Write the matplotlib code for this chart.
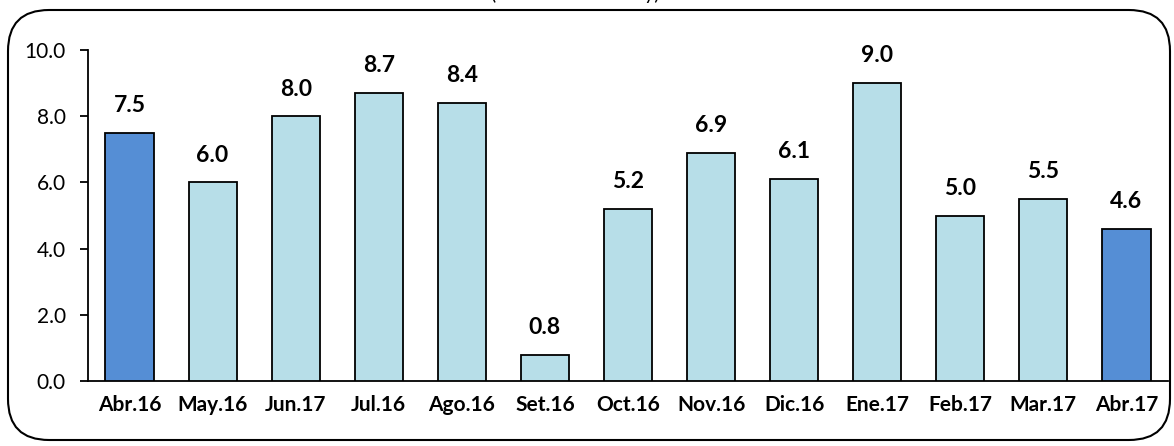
import matplotlib
matplotlib.use("Agg")
import matplotlib.pyplot as plt
from matplotlib.patches import FancyBboxPatch
from matplotlib.ticker import FormatStrFormatter

categories = ["Abr.16", "May.16", "Jun.17", "Jul.16", "Ago.16", "Set.16", "Oct.16",
              "Nov.16", "Dic.16", "Ene.17", "Feb.17", "Mar.17", "Abr.17"]
values = [7.5, 6.0, 8.0, 8.7, 8.4, 0.8, 5.2, 6.9, 6.1, 9.0, 5.0, 5.5, 4.6]
labels = ["7.5", "6.0", "8.0", "8.7", "8.4", "0.8", "5.2", "6.9", "6.1", "9.0", "5.0", "5.5", "4.6"]
highlight = [True] + [False] * 11 + [True]
yticks = [0, 2, 4, 6, 8, 10]

plt.rcParams['font.family'] = ['Lato', 'DejaVu Sans']

fig = plt.figure(figsize=(11.74, 4.46), dpi=100)
ax = fig.add_axes([88/1174, 1-381/446, (1168-88)/1174, (381-50)/446])

colors = ["#558ED5" if h else "#B7DEE8" for h in highlight]
x = list(range(len(categories)))
ax.bar(x, values, width=0.58, color=colors, edgecolor="black", linewidth=1.3, zorder=3)
for xi, v, lab in zip(x, values, labels):
    ax.annotate(lab, (xi, v), xytext=(0, 12), textcoords="offset points",
                ha="center", va="bottom", fontsize=16.5, fontweight="bold")

ax.set_xlim(-0.5, len(categories) - 0.5)
ax.set_ylim(0, 10)
ax.set_yticks(yticks)
ax.yaxis.set_major_formatter(FormatStrFormatter("%.1f"))
ax.set_xticks(x)
ax.set_xticklabels(categories, fontweight="bold", fontsize=15)
ax.tick_params(axis="x", length=0, pad=10)
ax.tick_params(axis="y", length=6, width=1.3, labelsize=15, pad=10)
for s in ["top", "right"]:
    ax.spines[s].set_visible(False)
for s in ["left", "bottom"]:
    ax.spines[s].set_linewidth(1.3)

box = FancyBboxPatch((8/1174, 6/446), (1170-8)/1174, (436-6)/446,
                     boxstyle="round,pad=0,rounding_size=0.035",
                     transform=fig.transFigure, fill=False, edgecolor="black",
                     linewidth=1.5, mutation_aspect=1174/446)
fig.patches.append(box)

fig.text(0.49, 1.0, "(Var. % real anual y)", ha="center", va="baseline", fontsize=14)

fig.savefig("out.png", dpi=100)
